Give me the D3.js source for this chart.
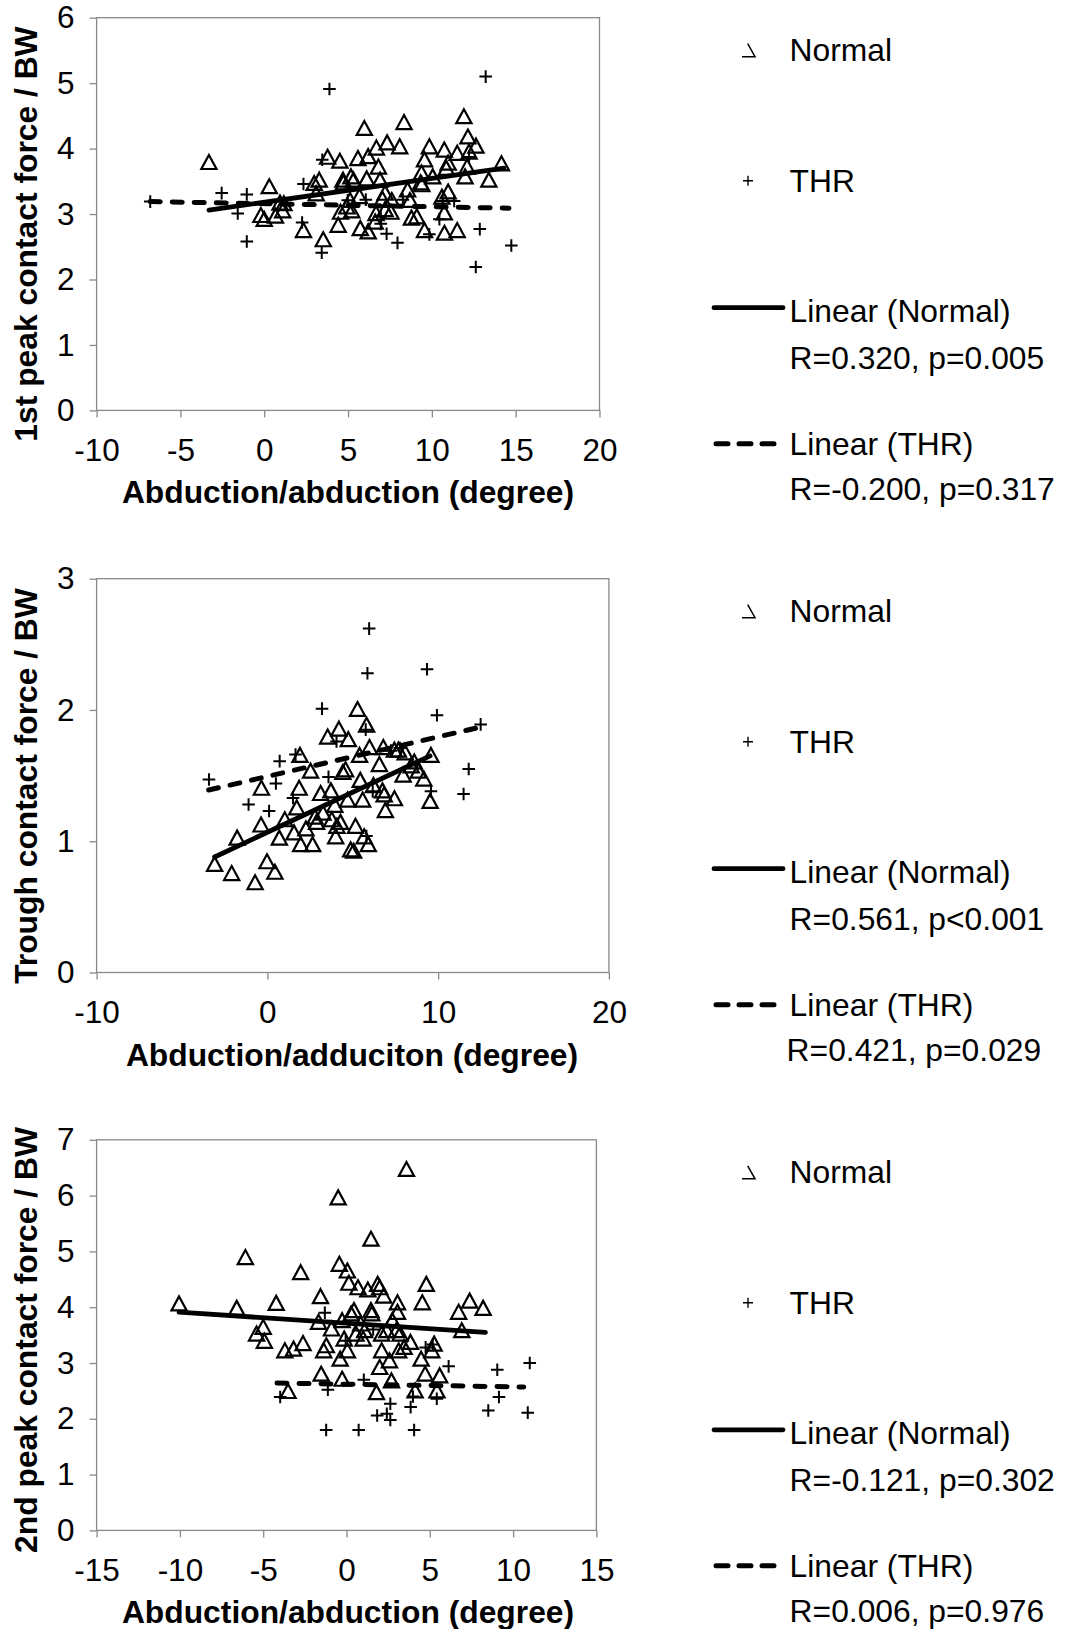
<!DOCTYPE html>
<meta charset="utf-8">
<style>
    body { margin: 0; background: #fff; }
    svg { font-family: "Liberation Sans", Arial, sans-serif; }
    .frame { fill: none; stroke: #898989; stroke-width: 1.3; }
    .axis path.domain { display: none; }
    .axis line { stroke: #898989; stroke-width: 1.3; }
    .axis text { font-size: 31.5px; fill: #000; font-family: "Liberation Sans", Arial, sans-serif; }
    .title { font-size: 31.8px; font-weight: bold; }
    .tri { fill: none; stroke: #000; stroke-width: 2.2; }
    .plus { fill: none; stroke: #000; stroke-width: 2; }
    .trend { fill: none; stroke: #000; stroke-width: 4.8; stroke-linecap: round; }
    .trend.dash { stroke-dasharray: 10, 12; stroke-width: 5; }
    .leg { font-size: 31.8px; }
</style>
<body>
<script src="https://cdn.jsdelivr.net/npm/d3@7"></script>
<script>

    // ---- panel 1 : 1st peak ----
    const normal1 = [[-3.3,3.78],[0.3,3.41],[-0.2,2.97],[0.0,2.91],[0.67,2.96],[1.1,3.04],[1.17,3.15],[0.94,3.16],
        [2.34,2.74],[2.98,3.46],[3.28,3.51],[3.1,3.3],[3.52,2.6],[3.78,3.86],[4.51,3.8],[4.41,2.82],[4.55,3.02],
        [4.72,3.47],[4.7,3.51],[4.93,3.1],[5.12,3.2],[5.17,3.56],[5.33,3.51],[5.22,3.04],[5.59,3.84],[5.68,3.26],
        [5.73,2.77],[5.97,4.3],[6.11,3.53],[6.2,3.87],[6.2,2.72],[6.62,2.87],[6.67,3.0],[6.69,4.0],[6.81,3.71],
        [6.91,3.51],[7.05,3.22],[7.21,3.31],[7.21,3.06],[7.33,4.08],[7.56,3.02],[7.61,3.2],[8.08,4.02],[8.34,4.39],
        [8.55,3.36],[8.69,3.2],[8.78,2.93],[9.1,2.95],[9.33,3.47],[9.38,3.62],[9.4,3.44],[9.56,3.82],[9.56,2.74],
        [9.85,4.02],[10.05,3.56],[10.6,3.25],[10.74,3.97],[10.74,3.01],[10.75,2.7],[10.86,3.69],[10.97,3.77],
        [10.97,3.33],[11.51,3.92],[11.51,2.74],[11.91,4.48],[11.98,3.56],[12.15,4.17],[12.22,3.94],[12.1,3.71],
        [12.63,4.03],[13.4,3.51],[14.15,3.76]];
    const thr1 = [[-6.8,3.19],[-2.54,3.32],[-1.04,3.3],[-1.58,3.01],[-1.04,2.58],[2.34,3.46],[2.26,2.87],
        [3.46,3.83],[3.43,2.41],[3.89,4.91],[4.98,3.21],[6.06,3.22],[6.95,2.96],[6.95,2.85],[7.3,2.7],[7.95,2.56],
        [8.27,3.22],[9.85,2.69],[10.45,2.92],[10.65,3.2],[11.33,3.2],[12.22,3.87],[12.62,2.19],[12.86,2.77],
        [13.21,5.1],[14.74,2.52]];
    const fitNormal1 = [[-3.3,3.06],[14.3,3.70]];
    const fitThr1 = [[-6.8,3.19],[14.6,3.09]];

    // ---- panel 2 : trough ----
    const normal2 = [[-3.09,0.82],[-2.09,0.75],[-1.77,1.02],[-0.72,0.68],[-0.35,1.4],[-0.37,1.12],[-0.02,0.84],
        [0.44,0.76],[0.7,1.02],[1.02,1.16],[1.56,1.06],[1.72,1.25],[1.86,1.4],[1.91,1.65],[1.95,0.97],[2.26,1.09],
        [2.53,1.53],[2.65,0.97],[2.79,1.18],[2.88,1.14],[3.12,1.36],[3.26,1.21],[3.53,1.79],[3.72,1.38],[3.77,1.16],
        [3.95,1.27],[4.0,1.03],[4.07,1.11],[4.19,1.85],[4.28,1.14],[4.42,1.52],[4.58,1.54],[4.7,1.31],[4.74,1.77],
        [4.88,0.93],[5.05,0.92],[5.16,1.11],[5.28,2.0],[5.4,1.65],[5.44,1.46],[5.58,1.31],[5.67,1.03],[5.81,1.88],
        [5.91,0.97],[5.98,1.71],[6.21,1.42],[6.56,1.58],[6.74,1.38],[6.79,1.71],[6.84,1.35],[6.91,1.23],[7.44,1.32],
        [7.44,1.69],[7.67,1.69],[7.95,1.5],[8.07,1.67],[8.42,1.57],[8.6,1.6],[8.84,1.53],[9.16,1.47],[9.53,1.3],
        [9.58,1.65]];
    const thr2 = [[-3.42,1.47],[-1.1,1.28],[0.1,1.23],[0.5,1.44],[0.72,1.61],[1.65,1.66],[1.5,1.33],[3.2,2.01],
        [3.58,1.49],[4.05,1.76],[5.86,2.28],[5.96,2.62],[5.76,1.85],[5.8,1.04],[6.17,1.38],[7.24,1.69],[7.76,1.71],
        [9.35,2.31],[9.93,1.96],[9.58,1.38],[11.79,1.55],[11.49,1.36],[12.49,1.89]];
    const fitNormal2 = [[-3.09,0.88],[9.53,1.65]];
    const fitThr2 = [[-3.44,1.39],[12.49,1.87]];

    // ---- panel 3 : 2nd peak ----
    const normal3 = [[-10.05,4.05],[-6.59,3.97],[-6.07,4.88],[-5.4,3.51],[-5.0,3.63],[-4.93,3.38],[-4.22,4.06],
        [-3.7,3.21],[-3.51,2.48],[-3.18,3.24],[-2.75,4.61],[-2.61,3.34],[-1.68,3.72],[-1.56,4.18],[-1.52,2.79],
        [-1.37,3.21],[-1.21,3.3],[-0.9,3.6],[-0.5,5.95],[-0.43,4.76],[-0.38,3.06],[-0.26,2.7],[-0.26,3.75],
        [-0.14,3.42],[0.05,4.64],[0.14,4.42],[0.05,3.21],[0.28,3.87],[0.45,3.93],[0.57,3.51],[0.69,4.34],
        [0.85,3.69],[1.0,3.42],[1.09,3.57],[1.28,4.3],[1.47,3.93],[1.52,3.87],[1.47,5.21],[1.8,2.46],[1.87,4.4],
        [1.99,4.34],[1.99,2.91],[2.11,3.21],[2.11,3.51],[2.23,4.19],[2.42,3.57],[2.58,3.03],[2.7,2.67],[2.75,3.75],
        [2.99,3.57],[3.06,4.07],[3.06,3.9],[3.13,3.21],[3.22,3.51],[3.46,3.27],[3.6,6.46],[3.84,3.36],[4.12,2.49],
        [4.48,3.06],[4.55,4.07],[4.72,2.79],[4.79,4.4],[5.12,3.21],[5.26,3.33],[5.43,2.49],[5.59,2.76],[6.73,3.9],
        [6.92,3.57],[7.39,4.1],[8.2,3.97]];
    const thr3 = [[-3.98,2.39],[-1.3,3.9],[-1.12,2.52],[-1.22,1.8],[-0.05,3.4],[0.73,1.8],[1.04,2.7],[1.6,3.6],
        [1.84,2.06],[2.42,2.09],[2.63,2.27],[2.63,1.98],[3.85,2.21],[3.99,2.4],[4.06,1.8],[4.75,3.28],[5.18,3.33],
        [5.42,2.36],[6.13,2.94],[8.51,2.15],[9.05,2.88],[9.15,2.39],[10.88,2.11],[11.0,3.0]];
    const fitNormal3 = [[-10.05,3.91],[8.34,3.55]];
    const fitThr3 = [[-4.17,2.64],[10.64,2.57]];

    // ticks, titles, legend text
    const xTicks1 = [-10, -5, 0, 5, 10, 15, 20];
    const yTicks1 = [0, 1, 2, 3, 4, 5, 6];
    const xTicks2 = [-10, 0, 10, 20];
    const yTicks2 = [0, 1, 2, 3];
    const xTicks3 = [-15, -10, -5, 0, 5, 10, 15];
    const yTicks3 = [0, 1, 2, 3, 4, 5, 6, 7];
    const xTitles = ["Abduction/abduction (degree)", "Abduction/adduciton (degree)", "Abduction/abduction (degree)"];
    const yTitles = ["1st peak contact force / BW", "Trough contact force / BW", "2nd peak contact force / BW"];
    const legendNames = ["Normal", "THR", "Linear (Normal)", "Linear (THR)"];
    const statsNormal = ["R=0.320, p=0.005", "R=0.561, p<0.001", "R=-0.121, p=0.302"];
    const statsThr = ["R=-0.200, p=0.317", "R=0.421, p=0.029", "R=0.006, p=0.976"];

    const panels = [
        {top: 17.7, bottom: 410.4, right: 599.5, xd: [-10, 20], yd: [0, 6], xt: xTicks1, yt: yTicks1,
         normal: normal1, thr: thr1, fitN: fitNormal1, fitT: fitThr1, titleCx: 348, titleCy: 234, thrStatDx: 0},
        {top: 578.7, bottom: 972.5, right: 608.9, xd: [-10, 20], yd: [0, 3], xt: xTicks2, yt: yTicks2,
         normal: normal2, thr: thr2, fitN: fitNormal2, fitT: fitThr2, titleCx: 352, titleCy: 786, thrStatDx: -3},
        {top: 1139.8, bottom: 1530.4, right: 596.4, xd: [-15, 15], yd: [0, 7], xt: xTicks3, yt: yTicks3,
         normal: normal3, thr: thr3, fitN: fitNormal3, fitT: fitThr3, titleCx: 348, titleCy: 1340, thrStatDx: 0}
    ];
    const left = 96.6;
    const plain = d => String(d);   // hyphen minus, no decimals

    const svg = d3.select('body')
        .append('svg')
        .attr('width', 1066)
        .attr('height', 1629);

    panels.forEach((p, i) => {
        const x = d3.scaleLinear().domain(p.xd).range([left, p.right]);
        const y = d3.scaleLinear().domain(p.yd).range([p.bottom, p.top]);
        const g = svg.append('g');

        // axes
        g.append('g')
            .attr('class', 'axis')
            .attr('transform', 'translate(0,' + p.bottom + ')')
            .call(d3.axisBottom(x).tickValues(p.xt).tickFormat(plain)
                .tickSize(7).tickSizeOuter(0).tickPadding(21));
        g.append('g')
            .attr('class', 'axis')
            .attr('transform', 'translate(' + left + ',0)')
            .call(d3.axisLeft(y).tickValues(p.yt).tickFormat(plain)
                .tickSize(7).tickSizeOuter(0).tickPadding(15));

        // plot frame
        g.append('rect')
            .attr('class', 'frame')
            .attr('x', left)
            .attr('y', p.top)
            .attr('width', p.right - left)
            .attr('height', p.bottom - p.top);

        // titles
        g.append('text')
            .attr('class', 'title')
            .attr('x', p.titleCx)
            .attr('y', p.bottom + 93)
            .style('text-anchor', 'middle')
            .text(xTitles[i]);
        g.append('text')
            .attr('class', 'title')
            .attr('transform', 'translate(37,' + p.titleCy + ') rotate(-90)')
            .style('text-anchor', 'middle')
            .text(yTitles[i]);

        // points
        g.selectAll('.tri')
            .data(p.normal)
            .enter().append('path')
            .attr('class', 'tri')
            .attr('transform', d => 'translate(' + x(d[0]) + ',' + y(d[1]) + ')')
            .attr('d', 'M0,-8L7.6,6H-7.6Z');
        g.selectAll('.plus')
            .data(p.thr)
            .enter().append('path')
            .attr('class', 'plus')
            .attr('transform', d => 'translate(' + x(d[0]) + ',' + y(d[1]) + ')')
            .attr('d', 'M-6.3,0H6.3M0,-6.3V6.3');

        // trend lines
        const line = d3.line().x(d => x(d[0])).y(d => y(d[1]));
        g.append('path').attr('class', 'trend dash').attr('d', line(p.fitT));
        g.append('path').attr('class', 'trend').attr('d', line(p.fitN));

        // legend
        const lg = g.append('g').attr('transform', 'translate(0,' + p.top + ')');
        const tx = 789.6;
        const rows = [32, 163, 293, 340, 426, 471];
        lg.append('path')
            .attr('d', 'M' + 742 + ',' + (rows[0] + 7) + 'H755L747.7,' + (rows[0] - 6))
            .style('fill', 'none').style('stroke', '#000').style('stroke-width', 1.5);
        lg.append('path')
            .attr('d', 'M743,' + rows[1] + 'H753M748,' + (rows[1] - 5) + 'V' + (rows[1] + 5))
            .style('fill', 'none').style('stroke', '#000').style('stroke-width', 1.4);
        lg.append('path')
            .attr('class', 'trend')
            .attr('d', 'M714,' + (rows[2] - 3) + 'H783');
        lg.append('path')
            .attr('class', 'trend')
            .style('stroke-dasharray', '12,11')
            .style('stroke-width', 5)
            .attr('d', 'M716,' + rows[4] + 'H775');

        const texts = [
            [legendNames[0], rows[0], 0], [legendNames[1], rows[1], 0],
            [legendNames[2], rows[2], 0], [statsNormal[i], rows[3], 0],
            [legendNames[3], rows[4], 0], [statsThr[i], rows[5], p.thrStatDx]
        ];
        lg.selectAll('.leg')
            .data(texts)
            .enter().append('text')
            .attr('class', 'leg')
            .attr('x', d => tx + d[2])
            .attr('y', d => d[1])
            .attr('dy', '0.35em')
            .text(d => d[0]);
    });

</script>
</body>
</html>
